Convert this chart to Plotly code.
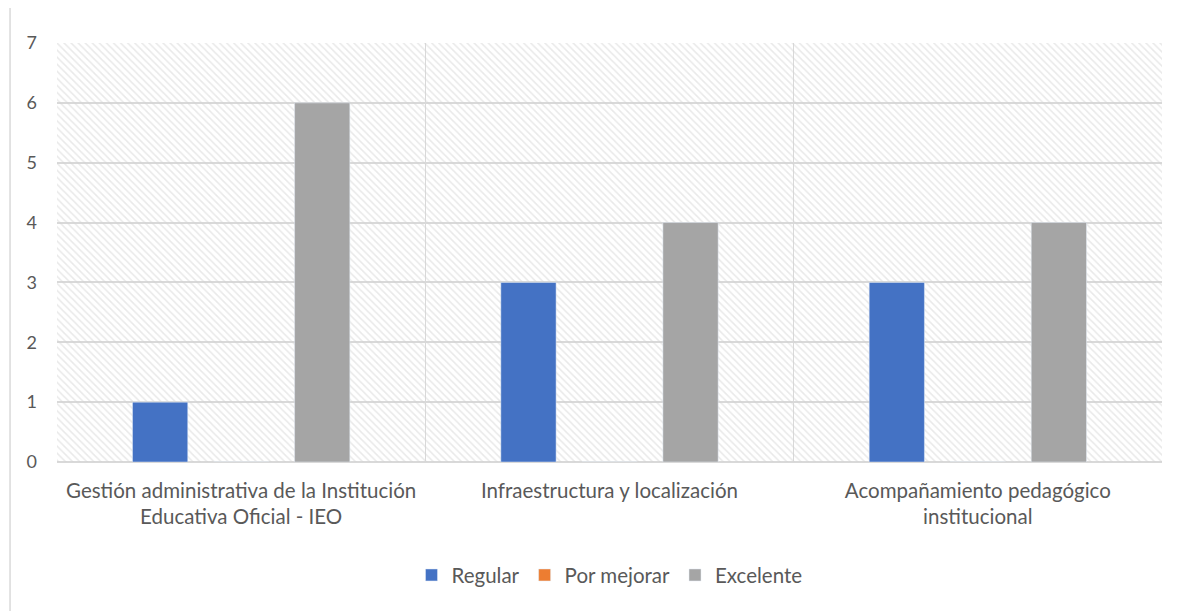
import plotly.graph_objects as go

categorias = ["Gestión administrativa de la Institución<br>Educativa Oficial - IEO",
              "Infraestructura y localización",
              "Acompañamiento pedagógico<br>institucional"]
series = ["Regular", "Por mejorar", "Excelente"]
regular = [1, 3, 3]
por_mejorar = [0, 0, 0]
excelente = [6, 4, 4]
colores = ["#4472C4", "#ED7D31", "#A5A5A5"]
y_max = 7

x = list(range(len(categorias)))
valores = [regular, por_mejorar, excelente]

fig = go.Figure()

# fondo rayado del area de trazado
fig.add_trace(go.Bar(x=[1], y=[y_max], width=[3], offset=-1.5, showlegend=False,
                     hoverinfo="skip",
                     marker=dict(color="rgba(0,0,0,0)", line=dict(width=0),
                                 pattern=dict(shape="\\", fgcolor="#d3d3d3", size=5,
                                              solidity=0.3, fillmode="overlay"))))

ancho = 0.15
paso = 0.22
for i, (nombre, vals, col) in enumerate(zip(series, valores, colores)):
    fig.add_trace(go.Bar(x=x, y=vals, name=nombre, marker_color=col,
                         width=ancho, offset=(i - 1) * paso - ancho / 2))

# la pagina tiene 8px de margen en el body
fig.update_layout(
    width=1169, height=603,
    barmode="overlay",
    plot_bgcolor="white", paper_bgcolor="white",
    margin=dict(l=49, r=15, t=35, b=149, autoexpand=False),
    font=dict(family="Lato, sans-serif", size=20, color="#595959"),
    legend=dict(orientation="h", x=0.5, xanchor="center", y=-0.27, yanchor="middle",
                font=dict(size=20.5, color="#595959"), itemwidth=30, tracegroupgap=0),
    shapes=[dict(type="line", xref="paper", yref="paper", x0=-0.0425, x1=-0.0425,
                 y0=-0.4, y1=1.1, line=dict(color="#d9d9d9", width=1.5))],
)
fig.update_xaxes(range=[-0.5, 2.5], tickvals=x, ticktext=categorias, showgrid=False,
                 ticks="", zeroline=False, showline=False, tickfont=dict(size=20.5),
                 ticklabelstandoff=14,
                 minor=dict(tick0=0.5, dtick=1, showgrid=True, gridcolor="#d9d9d9", gridwidth=1))
fig.update_yaxes(range=[0, y_max], dtick=1, gridcolor="#d9d9d9", gridwidth=1.5,
                 zeroline=True, zerolinecolor="#d9d9d9", zerolinewidth=1.5,
                 ticks="", ticklabelstandoff=19, showline=False, tickfont=dict(size=18))

fig.write_html("out.html")
